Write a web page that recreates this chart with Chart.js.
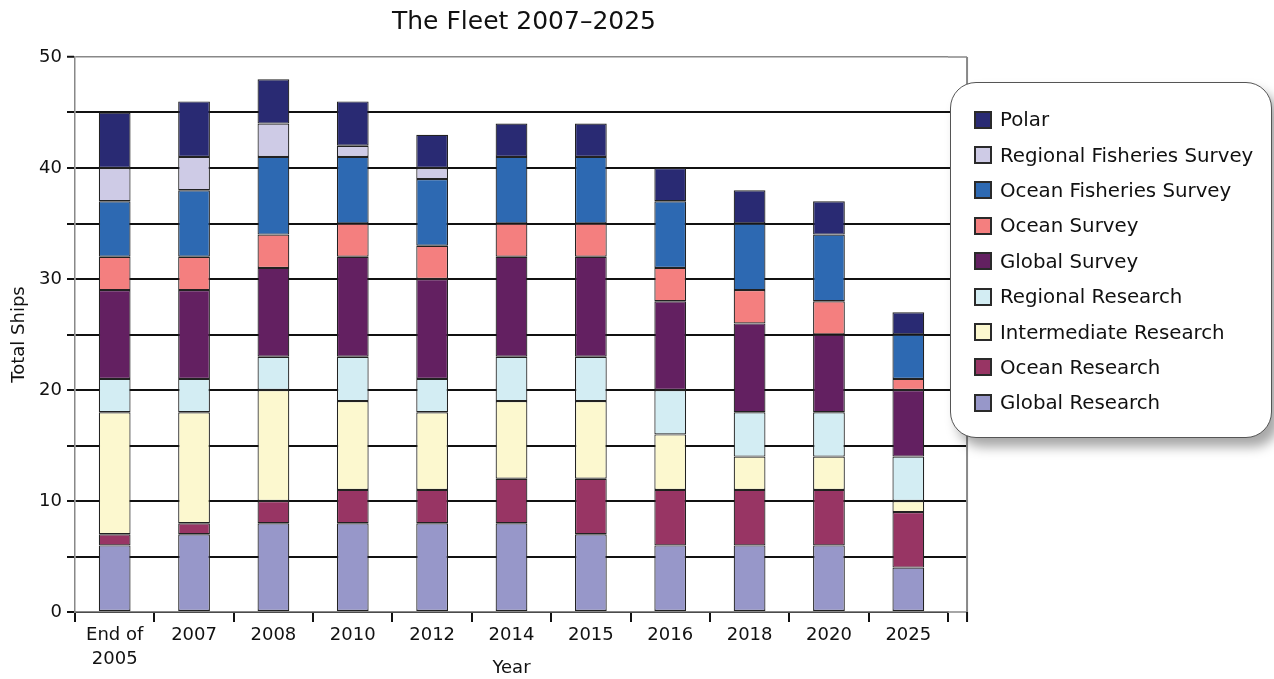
<!DOCTYPE html>
<html>
<head>
<meta charset="utf-8">
<title>The Fleet 2007–2025</title>
<script src="https://cdn.jsdelivr.net/npm/chart.js@4"></script>
<style>
  html, body { margin: 0; padding: 0; background: #fff; }
  #wrap { position: relative; width: 1274px; height: 679px; }
  #title {
    position: absolute; left: 0; top: 6px; width: 1048px;
    text-align: center; font: 25px "DejaVu Sans", sans-serif; color: #111;
  }
  #legend {
    position: absolute; left: 950px; top: 82px; width: 322px; height: 356px;
    box-sizing: border-box; background: #fff;
    border: 1.5px solid #555; border-radius: 26px;
    box-shadow: 7px 9px 12px rgba(0, 0, 0, 0.35);
    padding: 19px 0 0 23px;
    font: 19.8px "DejaVu Sans", sans-serif; color: #111;
  }
  .item { height: 35.4px; display: flex; align-items: center; }
  .swatch {
    width: 18px; height: 18px; box-sizing: border-box;
    border: 2.5px solid #2a2a2a; margin-right: 8px; flex: none;
  }
</style>
</head>
<body>
<div id="wrap">
  <canvas id="chart" width="1274" height="679"></canvas>
  <div id="title">The Fleet 2007–2025</div>
  <div id="legend"></div>
</div>
<script>
// categories (x axis)
const years = [['End of', '2005'], '2007', '2008', '2010', '2012', '2014', '2015', '2016', '2018', '2020', '2025'];

// ships per class (bottom to top)
const globalResearch       = [6, 7, 8, 8, 8, 8, 7, 6, 6, 6, 4];
const oceanResearch        = [1, 1, 2, 3, 3, 4, 5, 5, 5, 5, 5];
const intermediateResearch = [11, 10, 10, 8, 7, 7, 7, 5, 3, 3, 1];
const regionalResearch     = [3, 3, 3, 4, 3, 4, 4, 4, 4, 4, 4];
const globalSurvey         = [8, 8, 8, 9, 9, 9, 9, 8, 8, 7, 6];
const oceanSurvey          = [3, 3, 3, 3, 3, 3, 3, 3, 3, 3, 1];
const oceanFisheries       = [5, 6, 7, 6, 6, 6, 6, 6, 6, 6, 4];
const regionalFisheries    = [3, 3, 3, 1, 1, 0, 0, 0, 0, 0, 0];
const polar                = [5, 5, 4, 4, 3, 3, 3, 3, 3, 3, 2];

// y axis ticks (labelled every 10, gridline every 5)
const yMax = 50;
const yStep = 5;
const yLabelEvery = 10;

function ds(label, data, color) {
  return {
    label: label,
    data: data,
    backgroundColor: color,
    borderColor: '#222',
    borderWidth: 1.2,
    borderSkipped: false,
    barPercentage: 0.4,
    categoryPercentage: 1.0
  };
}

const datasets = [
  ds('Global Research', globalResearch, '#9797c9'),
  ds('Ocean Research', oceanResearch, '#983564'),
  ds('Intermediate Research', intermediateResearch, '#fcf8cf'),
  ds('Regional Research', regionalResearch, '#d3edf3'),
  ds('Global Survey', globalSurvey, '#632061'),
  ds('Ocean Survey', oceanSurvey, '#f47f7f'),
  ds('Ocean Fisheries Survey', oceanFisheries, '#2d69b2'),
  ds('Regional Fisheries Survey', regionalFisheries, '#cecbe6'),
  ds('Polar', polar, '#292a73')
];

const font = 'DejaVu Sans';

// the plot frame runs a little past the last category: extend gridlines,
// draw the right border and one more tick there
const frameExt = {
  id: 'frameExt',
  beforeDatasetsDraw(chart) {
    const { ctx, chartArea: a, scales: { x, y } } = chart;
    const xr = a.right + x.width / years.length * 0.24;
    ctx.save();
    y.ticks.forEach(t => {
      const py = Math.round(y.getPixelForValue(t.value));
      const edge = t.value === 0 || t.value === yMax;
      ctx.beginPath();
      ctx.strokeStyle = edge ? '#888' : '#111';
      ctx.lineWidth = edge ? 1.5 : 2;
      ctx.moveTo(a.right, py);
      ctx.lineTo(xr, py);
      ctx.stroke();
    });
    ctx.beginPath();
    ctx.strokeStyle = '#888';
    ctx.lineWidth = 2;
    ctx.moveTo(xr, a.top);
    ctx.lineTo(xr, a.bottom);
    ctx.stroke();
    ctx.beginPath();
    ctx.strokeStyle = '#111';
    ctx.lineWidth = 2;
    ctx.moveTo(xr, a.bottom);
    ctx.lineTo(xr, a.bottom + 10);
    ctx.stroke();
    ctx.restore();
  }
};

const chart = new Chart(document.getElementById('chart'), {
  type: 'bar',
  data: { labels: years, datasets: datasets },
  options: {
    responsive: false,
    animation: false,
    layout: { padding: { top: 57, right: 326, left: 0, bottom: 0 } },
    plugins: {
      legend: { display: false },
      title: { display: false },
      tooltip: { enabled: false }
    },
    scales: {
      x: {
        stacked: true,
        grid: {
          drawOnChartArea: false,
          drawTicks: true,
          tickLength: 10,
          color: '#111',
          lineWidth: 2,
          offset: true
        },
        border: { color: '#888', width: 1.5 },
        ticks: {
          color: '#111',
          font: { family: font, size: 18, lineHeight: 1.3 },
          padding: 2,
          maxRotation: 0,
          autoSkip: false
        },
        title: {
          display: true,
          text: 'Year',
          color: '#111',
          font: { family: font, size: 18 },
          padding: 0
        },
        afterFit(s) { s.height = 67; }
      },
      y: {
        stacked: true,
        min: 0,
        max: yMax,
        ticks: {
          stepSize: yStep,
          color: '#111',
          font: { family: font, size: 18 },
          padding: 5,
          callback: v => (v % yLabelEvery === 0 ? v : '')
        },
        grid: {
          color: c => (c.tick && c.tick.value === yMax ? '#888' : '#111'),
          lineWidth: c => (c.tick && c.tick.value === yMax ? 1.5 : 2),
          tickLength: 8,
          tickColor: '#111',
          tickWidth: 2
        },
        border: { color: '#888', width: 1.5 },
        title: {
          display: true,
          text: 'Total Ships',
          color: '#111',
          font: { family: font, size: 18 },
          padding: { top: 9, bottom: 0 }
        },
        afterFit(s) { s.width = 75; }
      }
    }
  },
  plugins: [frameExt]
});

// legend box, top of the stack first
const legend = document.getElementById('legend');
datasets.slice().reverse().forEach(d => {
  const row = document.createElement('div');
  row.className = 'item';
  const sw = document.createElement('span');
  sw.className = 'swatch';
  sw.style.background = d.backgroundColor;
  const tx = document.createElement('span');
  tx.textContent = d.label;
  row.appendChild(sw);
  row.appendChild(tx);
  legend.appendChild(row);
});
</script>
</body>
</html>
